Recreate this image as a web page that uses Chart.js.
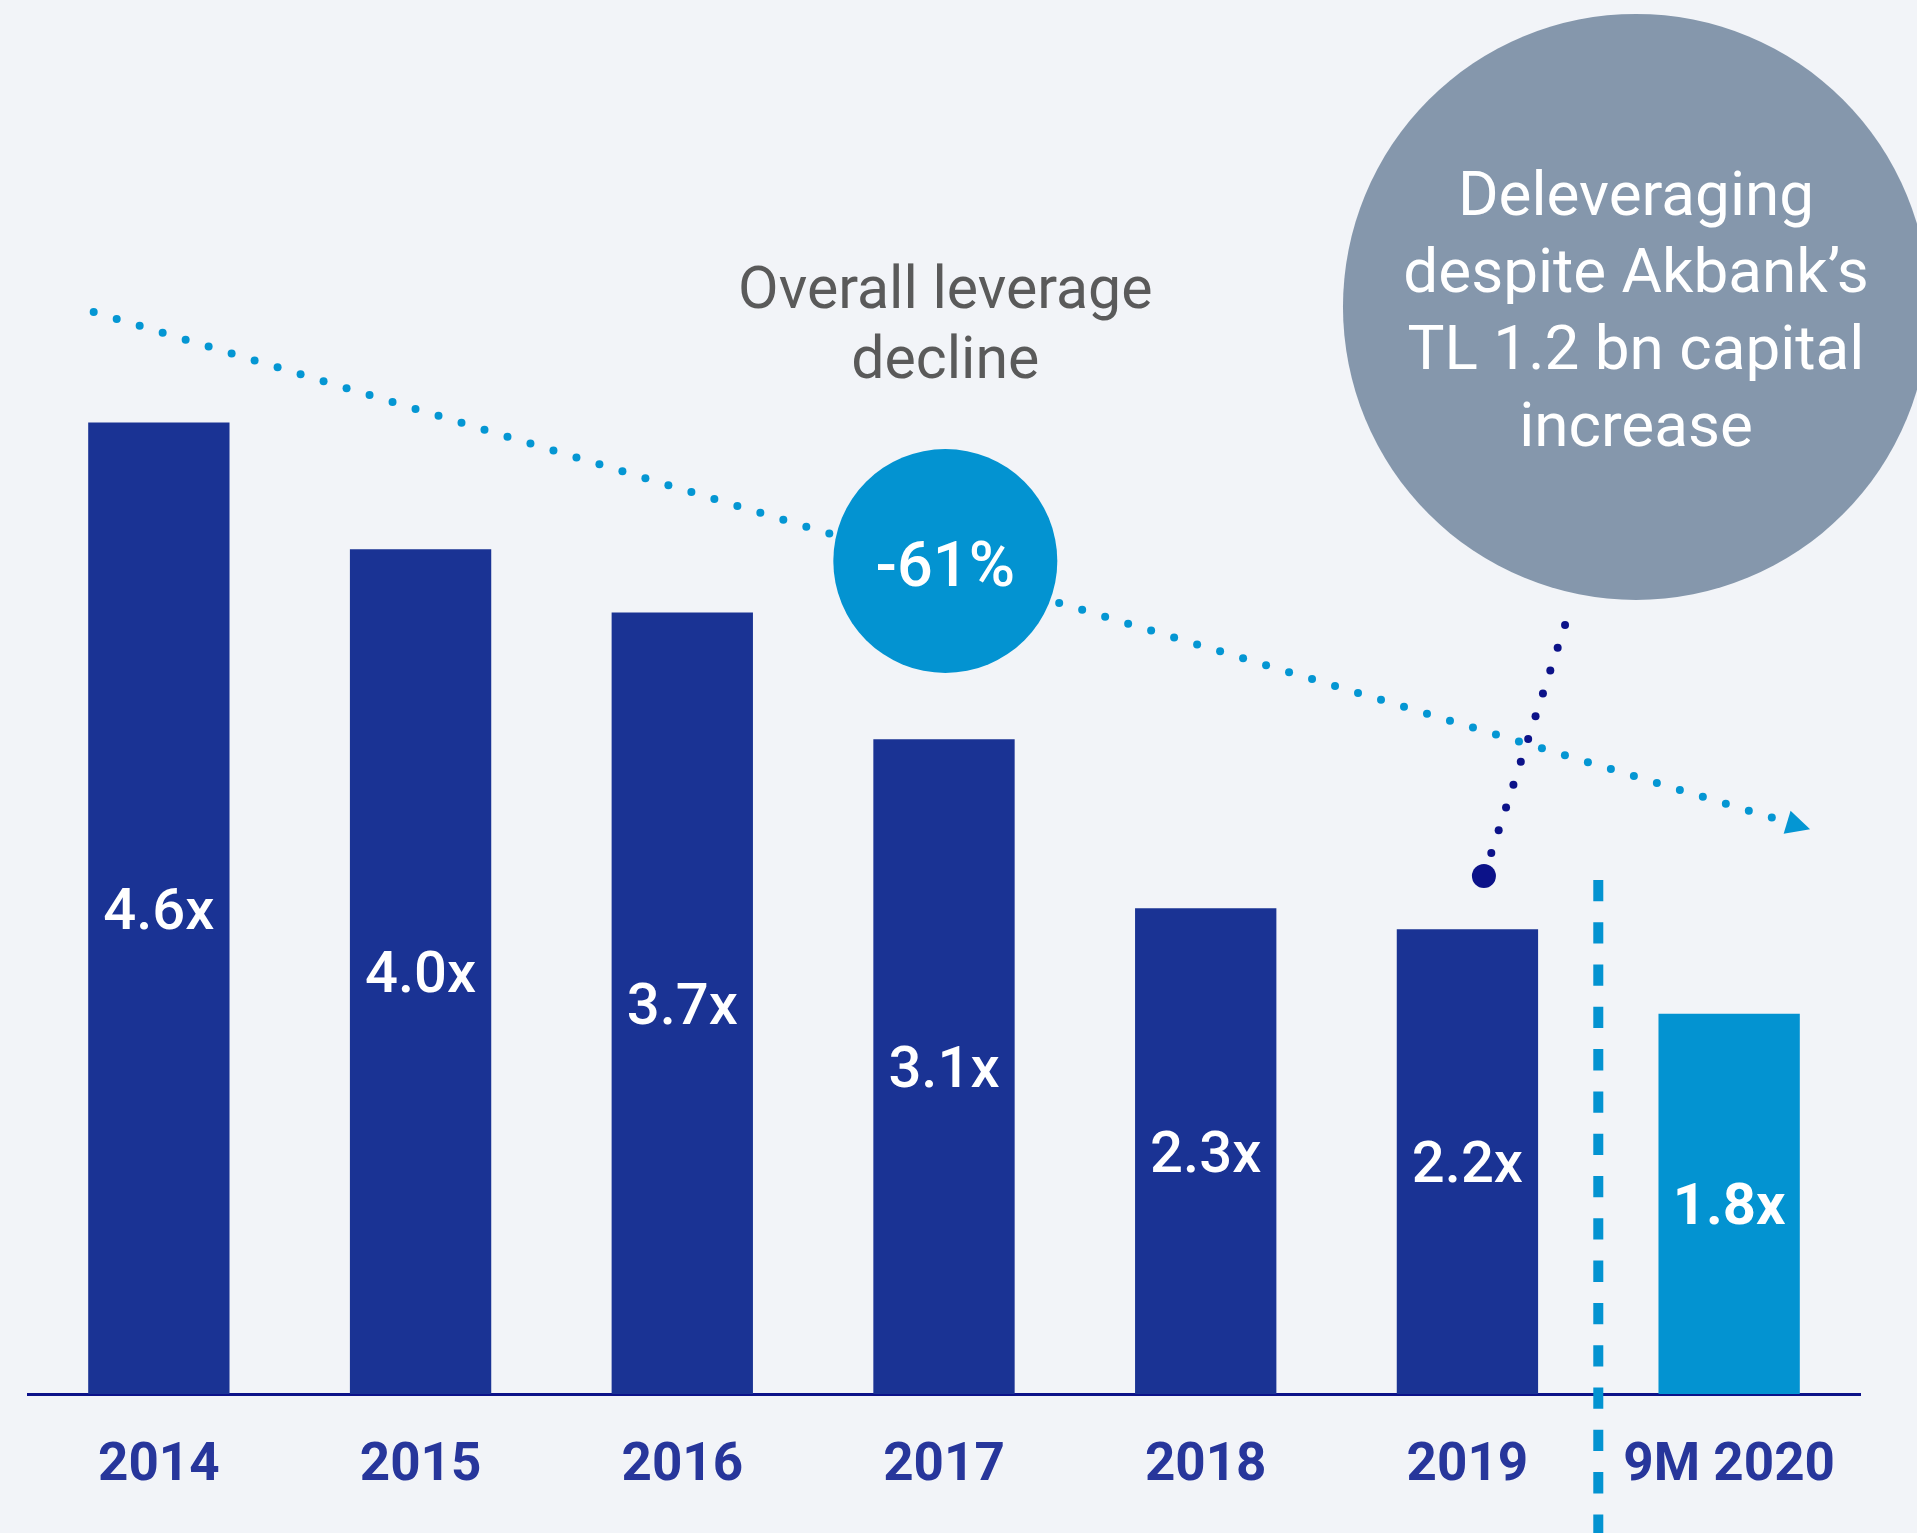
<!DOCTYPE html>
<html>
<head>
<meta charset="utf-8">
<script src="https://cdn.jsdelivr.net/npm/chart.js@4.4.1/dist/chart.umd.min.js"></script>
<style>
  html, body { margin: 0; padding: 0; background: #f2f4f8; }
  #wrap { width: 1917px; height: 1533px; position: relative; }
  canvas { display: block; }
</style>
</head>
<body>
<div id="wrap"><canvas id="c" width="1917" height="1533"></canvas></div>
<script>
// ---- Data ----
const categories = ['2014', '2015', '2016', '2017', '2018', '2019', '9M 2020'];
const leverage = [4.6, 4.0, 3.7, 3.1, 2.3, 2.2, 1.8];
const valueLabels = ['4.6x', '4.0x', '3.7x', '3.1x', '2.3x', '2.2x', '1.8x'];
const barColors = ['#1a3394', '#1a3394', '#1a3394', '#1a3394', '#1a3394', '#1a3394', '#0393d1'];
const declineText = '-61%';
const declineTitle = ['Overall leverage', 'decline'];
const bubbleText = ['Deleveraging', 'despite Akbank\u2019s', 'TL 1.2 bn capital', 'increase'];

// Annotation anchors in data space: [category index (fractional), value]
const trendStart = [-0.249, 5.123];
const trendEnd = [6.163, 2.729];
const declineCircle = [3.005, 3.944];
const declineTitleAnchor = [3.005, 5.142];
const bubbleCenter = [5.644, 5.147];
const dividerAnchor = [5.5, 2.434];
const pointerDot = [5.063, 2.453];
const pointerTop = [5.373, 3.641];

const annotations = {
  id: 'annotations',
  afterDraw(chart) {
    const ctx = chart.ctx;
    const xs = chart.scales.x, ys = chart.scales.y;
    const step = xs.getPixelForValue(1) - xs.getPixelForValue(0);
    const X = i => xs.getPixelForValue(0) + i * step;
    const Y = v => ys.getPixelForValue(v);
    const P = a => [X(a[0]), Y(a[1])];

    function dots(a, b, n, r, color) {
      ctx.fillStyle = color;
      for (let k = 0; k <= n; k++) {
        const t = k / n;
        ctx.beginPath();
        ctx.arc(a[0] + (b[0] - a[0]) * t, a[1] + (b[1] - a[1]) * t, r, 0, Math.PI * 2);
        ctx.fill();
      }
    }

    ctx.save();
    // trend dotted line
    const ts = P(trendStart), te = P(trendEnd);
    dots(ts, te, 73, 4, '#0496d3');
    // arrow head
    const dx = te[0] - ts[0], dy = te[1] - ts[1];
    const L = Math.hypot(dx, dy), ux = dx / L, uy = dy / L;
    const tip = [te[0] + ux * 40, te[1] + uy * 40];
    const bm = [te[0] + ux * 16, te[1] + uy * 16];
    ctx.fillStyle = '#0496d3';
    ctx.beginPath();
    ctx.moveTo(tip[0], tip[1]);
    ctx.lineTo(bm[0] - uy * 12, bm[1] + ux * 12);
    ctx.lineTo(bm[0] + uy * 12, bm[1] - ux * 12);
    ctx.closePath();
    ctx.fill();

    // -61% circle
    const dc = P(declineCircle);
    ctx.fillStyle = '#0393d1';
    ctx.beginPath(); ctx.arc(dc[0], dc[1], 112, 0, Math.PI * 2); ctx.fill();
    ctx.fillStyle = '#ffffff';
    ctx.font = '500 63px Roboto';
    ctx.textAlign = 'center';
    ctx.textBaseline = 'alphabetic';
    ctx.fillText(declineText, dc[0], dc[1] + 25);

    // title text
    const tt = P(declineTitleAnchor);
    ctx.fillStyle = '#5a5a5a';
    ctx.font = '400 59px Roboto';
    ctx.fillText(declineTitle[0], tt[0], tt[1]);
    ctx.fillText(declineTitle[1], tt[0], tt[1] + 70);

    // grey bubble
    const bc = P(bubbleCenter);
    ctx.fillStyle = '#8597ac';
    ctx.beginPath(); ctx.arc(bc[0], bc[1], 293, 0, Math.PI * 2); ctx.fill();
    ctx.fillStyle = '#ffffff';
    ctx.font = '400 62px Roboto';
    bubbleText.forEach((t, k) => {
      ctx.fillText(t, bc[0], bc[1] + 24 + (k - 1.5) * 77);
    });

    // pointer dotted line + dot
    const pt = P(pointerTop), pd = P(pointerDot);
    const pdx = pt[0] - pd[0], pdy = pt[1] - pd[1];
    const pl = Math.hypot(pdx, pdy);
    const pStart = [pd[0] + pdx / pl * 24, pd[1] + pdy / pl * 24];
    dots(pStart, pt, 10, 4, '#0c1289');
    ctx.fillStyle = '#0c1289';
    ctx.beginPath(); ctx.arc(pd[0], pd[1], 12, 0, Math.PI * 2); ctx.fill();

    // vertical dashed divider
    const dv = P(dividerAnchor);
    ctx.strokeStyle = '#0393d1';
    ctx.lineWidth = 10;
    ctx.setLineDash([21.3, 21]);
    ctx.beginPath();
    ctx.moveTo(dv[0], dv[1]);
    ctx.lineTo(dv[0], chart.height);
    ctx.stroke();
    ctx.setLineDash([]);

    // bar value labels
    const meta = chart.getDatasetMeta(0);
    ctx.fillStyle = '#ffffff';
    ctx.textAlign = 'center';
    ctx.textBaseline = 'middle';
    meta.data.forEach((bar, i) => {
      ctx.font = (i === meta.data.length - 1 ? '700' : '500') + ' 58px Roboto';
      ctx.fillText(valueLabels[i], bar.x, (bar.y + bar.base) / 2 + 6);
    });
    ctx.restore();
  }
};

const bg = {
  id: 'bg',
  beforeDraw(chart) {
    const ctx = chart.ctx;
    ctx.save();
    ctx.fillStyle = '#f2f4f8';
    ctx.fillRect(0, 0, chart.width, chart.height);
    ctx.restore();
  }
};

new Chart(document.getElementById('c'), {
  type: 'bar',
  data: {
    labels: categories,
    datasets: [{
      data: leverage,
      backgroundColor: barColors,
      borderWidth: 0,
      categoryPercentage: 1.0,
      barPercentage: 0.54
    }]
  },
  options: {
    responsive: false,
    animation: false,
    devicePixelRatio: 1,
    layout: { padding: { left: 28, right: 57, top: 0, bottom: 5 } },
    plugins: { legend: { display: false }, tooltip: { enabled: false } },
    scales: {
      x: {
        z: 1,
        grid: { display: false, drawTicks: false },
        border: { display: true, color: '#0c1289', width: 3 },
        afterFit(scale) { scale.height = 134; },
        ticks: {
          color: '#27369b',
          padding: 41,
          font: { family: 'Roboto', size: 53, weight: '700', lineHeight: 1.2 },
          maxRotation: 0,
          autoSkip: false
        }
      },
      y: {
        display: false,
        min: 0,
        max: 6.6
      }
    }
  },
  plugins: [bg, annotations]
});
</script>
</body>
</html>
